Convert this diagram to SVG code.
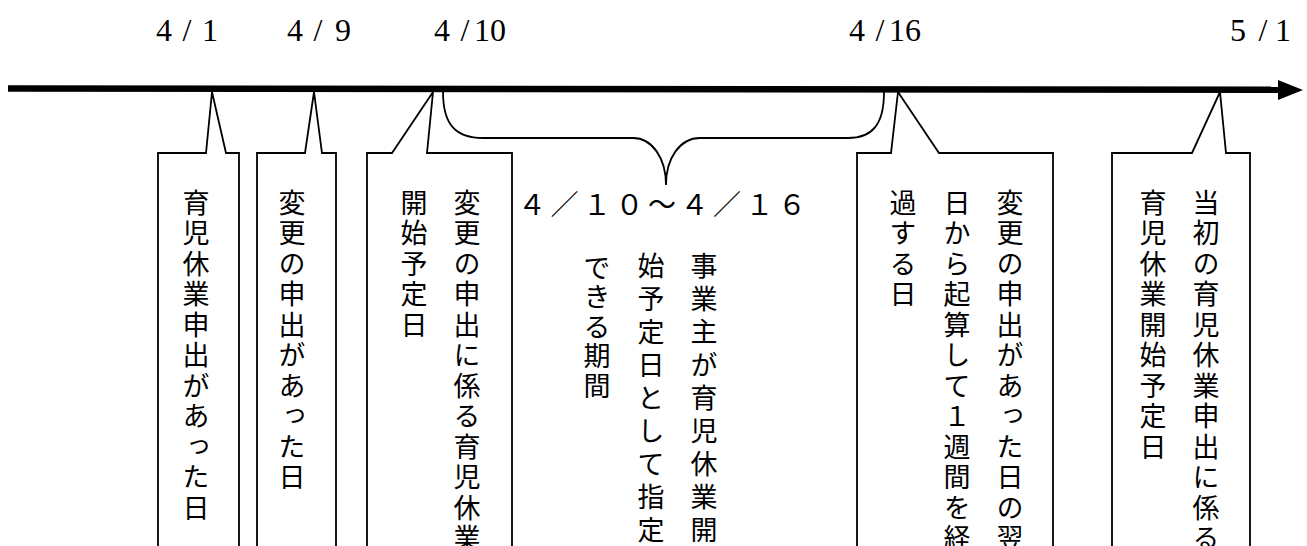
<svg xmlns="http://www.w3.org/2000/svg" width="1307" height="546" viewBox="0 0 1307 546">
<style>
.box{fill:none;stroke:#000;stroke-width:1.8;stroke-linejoin:miter}
.date{font-family:"Liberation Serif","Noto Sans CJK JP",serif;font-size:32px;fill:#000;text-anchor:middle}
.v{font-family:"Noto Sans CJK JP",sans-serif;font-size:27px;fill:#000;writing-mode:vertical-rl;letter-spacing:3.5px}
.vb{letter-spacing:6px}
.vc{letter-spacing:2.5px}
.range{font-family:"Noto Sans CJK JP",sans-serif;font-size:28px;fill:#000;text-anchor:middle}
</style>
<rect width="1307" height="546" fill="#fff"/>
<g id="dates">
<text class="date" x="164 187 210" y="41">4/1</text>
<text class="date" x="295 318 343" y="41">4/9</text>
<text class="date" x="442 465 490" y="41">4/10</text>
<text class="date" x="857 880 905" y="41">4/16</text>
<text class="date" x="1238 1263 1283" y="41">5/1</text>
</g>
<g id="node1">
<path class="box" d="M158,560 V153 H206 L212,92 L226,153 H239 V560"/>
<text class="v" x="196" y="189">育児休業申出があった日</text>
</g>
<g id="node2">
<path class="box" d="M257,560 V153 H305 L314,92 L322,153 H336 V560"/>
<text class="v" x="292" y="189">変更の申出があった日</text>
</g>
<g id="node3">
<path class="box" d="M367,560 V153 H392 L433,92 L427,153 H512 V560"/>
<text class="v" x="467" y="189">変更の申出に係る育児休業</text>
<text class="v" x="414" y="189">開始予定日</text>
</g>
<g id="period">
<text class="range" x="532 564.5 597 629.5 662 694.5 727 759.5 792" y="215">４／１０～４／１６</text>
<text class="v vb" x="704" y="252">事業主が育児休業開</text>
<text class="v vb" x="651" y="252">始予定日として指定</text>
<text class="v vc" x="597" y="254">できる期間</text>
</g>
<g id="node4">
<path class="box" d="M857,560 V153 H891 L898,92 L939,153 H1053 V560"/>
<text class="v" x="1010" y="189">変更の申出があった日の翌</text>
<text class="v" x="957" y="189">日から起算して１週間を経</text>
<text class="v" x="903" y="189">過する日</text>
</g>
<g id="node5">
<path class="box" d="M1112,560 V153 H1192 L1220,92 L1226,153 H1250 V560"/>
<text class="v" x="1206" y="189">当初の育児休業申出に係る</text>
<text class="v" x="1153" y="189">育児休業開始予定日</text>
</g>
<g id="connectors">
<path class="box" d="M443,92 C443,125 456,138 483,138 L633,138 C652,138 666,158 666,185 C666,158 680,138 700,138 L848,138 C872,138 884,125 884,92"/>
<path d="M8,88.5 L1282,89.8" stroke="#000" stroke-width="6.5" fill="none"/>
<polygon points="1278,80 1303,90 1278,100" fill="#000"/>
</g>
</svg>
